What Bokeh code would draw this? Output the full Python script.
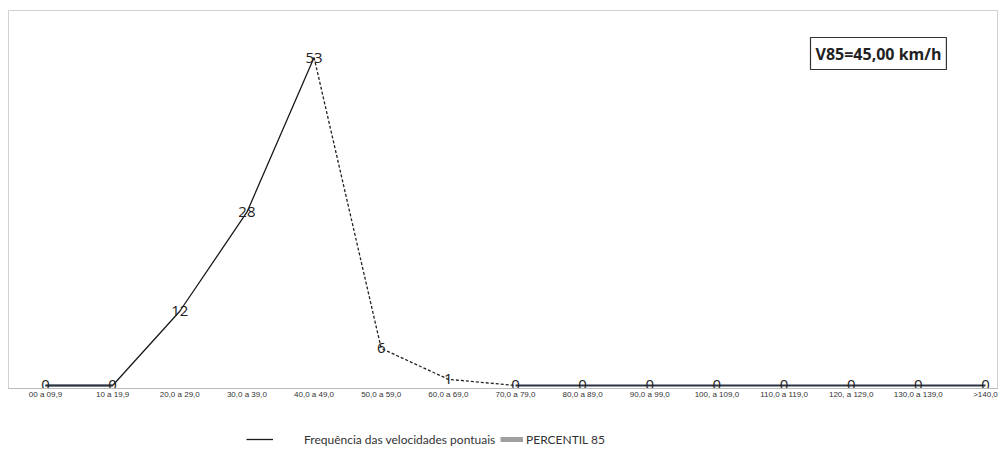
from bokeh.plotting import figure
from bokeh.layouts import column
from bokeh.models import ColumnDataSource, Range1d, Label, Legend, LegendItem, FixedTicker
from bokeh.core.properties import value
from bokeh.embed import file_html
from bokeh.resources import INLINE

categories = ["00 a 09,9", "10 a 19,9", "20,0 a 29,0", "30,0 a 39,0", "40,0 a 49,0",
              "50,0 a 59,0", "60,0 a 69,0", "70,0 a 79,0", "80,0 a 89,0", "90,0 a 99,0",
              "100, a 109,0", "110,0 a 119,0", "120, a 129,0", "130,0 a 139,0", ">140,0"]
frequencies = [0, 0, 12, 28, 53, 6, 1, 0, 0, 0, 0, 0, 0, 0, 0]
v85_label = "V85=45,00 km/h"
series_names = ["Frequência das velocidades pontuais", "PERCENTIL 85"]

xs = list(range(len(categories)))
src = ColumnDataSource(dict(x=xs, y=frequencies, t=[str(v) for v in frequencies]))

p = figure(frame_width=990, frame_height=378, output_backend="svg", toolbar_location=None,
           x_range=Range1d(-0.551, 14.194), y_range=Range1d(-0.485, 60.6),
           min_border_left=8, min_border_right=0, min_border_top=10, min_border_bottom=0)
p.yaxis.visible = False
p.xgrid.visible = False
p.ygrid.visible = False
p.outline_line_color = "#d0d0d0"
p.outline_line_width = 1

ax = p.xaxis[0]
ax.ticker = FixedTicker(ticks=xs)
ax.major_label_overrides = {i: c for i, c in enumerate(categories)}
ax.major_label_text_font = "Liberation Sans"
ax.major_label_text_font_size = "8px"
ax.major_label_text_color = "#333333"
ax.major_tick_line_color = None
ax.minor_tick_line_color = None
ax.major_tick_out = 0
ax.major_tick_in = 0
ax.axis_line_color = "#bbbbbb"
ax.major_label_standoff = 1

# line segments
peak = frequencies.index(max(frequencies))
s1 = ColumnDataSource(dict(x=xs[:peak + 1], y=frequencies[:peak + 1]))
s2 = ColumnDataSource(dict(x=xs[peak:peak + 4], y=frequencies[peak:peak + 4]))
s3 = ColumnDataSource(dict(x=xs[peak + 3:], y=frequencies[peak + 3:]))
p.line("x", "y", source=s1, line_color="#1a1a1a", line_width=1.3)
p.line("x", "y", source=s2, line_color="#222222", line_width=1.3, line_dash="3 2")
p.line("x", "y", source=s3, line_color="#2a3442", line_width=2)
s0 = ColumnDataSource(dict(x=xs[:2], y=frequencies[:2]))
p.line("x", "y", source=s0, line_color="#2a3442", line_width=2)

p.text("x", "y", text="t", source=src, text_align="center", text_baseline="middle",
       text_font_size="15px", text_color="#222222", text_font=value("Open Sans"))

p.add_layout(Label(x=802, y=319, x_units="screen", y_units="screen", text=v85_label,
                   text_font="Open Sans", text_font_size="16px", text_font_style="bold",
                   text_color="#222222", border_line_color="#333333", border_line_width=1.2,
                   background_fill_color="white", padding=5))

# legend strip
lg = figure(frame_width=998, frame_height=50, output_backend="svg", toolbar_location=None,
            x_range=Range1d(0, 1), y_range=Range1d(0, 1),
            min_border_left=0, min_border_right=0, min_border_top=0, min_border_bottom=0)
lg.axis.visible = False
lg.grid.visible = False
lg.outline_line_color = None
r1 = lg.line(x=[-5, -4], y=[-5, -5], line_color="#1a1a1a", line_width=1.3)
r2 = lg.line(x=[-5, -4], y=[-5, -5], line_color="#a0a0a0", line_width=5)
common = dict(orientation="horizontal", border_line_color=None, background_fill_alpha=0,
              label_text_font="Lato", label_text_font_size="12px",
              label_text_color="#333333", glyph_height=16, label_height=16,
              padding=2, margin=0)
lg.add_layout(Legend(items=[LegendItem(label=series_names[0], renderers=[r1])],
                     location=(246, 4), glyph_width=27, label_standoff=31, **common), "center")
lg.add_layout(Legend(items=[LegendItem(label=series_names[1], renderers=[r2])],
                     location=(500, 4), glyph_width=23, label_standoff=3, **common), "center")

open("out.html", "w").write(file_html(column(p, lg, spacing=0), INLINE))
